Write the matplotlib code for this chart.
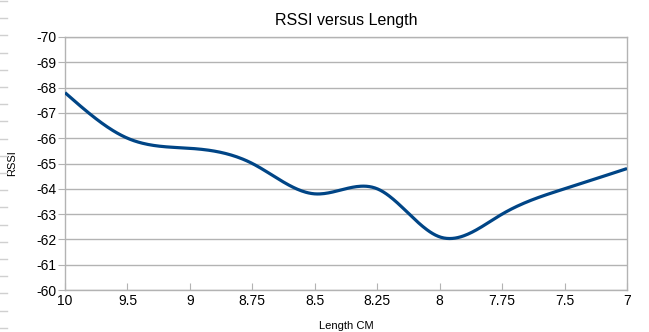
import numpy as np
import matplotlib
matplotlib.use("Agg")
import matplotlib.pyplot as plt
from matplotlib.lines import Line2D

# data
lengths = ["10", "9.5", "9", "8.75", "8.5", "8.25", "8", "7.75", "7.5", "7"]
rssi = [-67.8, -66.0, -65.6, -65.0, -63.8, -64.0, -62.1, -63.0, -64.0, -64.8]
y_ticks = list(range(-60, -71, -1))


def natural_spline(x, y, n=400):
    """Natural cubic spline through (x, y), sampled on n points."""
    x = np.asarray(x, float)
    y = np.asarray(y, float)
    k = len(x)
    h = np.diff(x)
    A = np.zeros((k, k))
    b = np.zeros(k)
    A[0, 0] = A[-1, -1] = 1
    for i in range(1, k - 1):
        A[i, i - 1] = h[i - 1]
        A[i, i] = 2 * (h[i - 1] + h[i])
        A[i, i + 1] = h[i]
        b[i] = 3 * ((y[i + 1] - y[i]) / h[i] - (y[i] - y[i - 1]) / h[i - 1])
    c = np.linalg.solve(A, b)
    xs = np.linspace(x[0], x[-1], n)
    idx = np.clip(np.searchsorted(x, xs) - 1, 0, k - 2)
    dx = xs - x[idx]
    bb = (y[idx + 1] - y[idx]) / h[idx] - h[idx] * (2 * c[idx] + c[idx + 1]) / 3
    dd = (c[idx + 1] - c[idx]) / (3 * h[idx])
    ys = y[idx] + bb * dx + c[idx] * dx ** 2 + dd * dx ** 3
    return xs, ys


plt.rcParams["font.family"] = ["Liberation Sans", "DejaVu Sans"]

fig = plt.figure(figsize=(6.49, 3.32), dpi=100)
ax = fig.add_axes([65 / 649, 42 / 332, 562 / 649, 253 / 332])

pos = np.arange(len(lengths))
xs, ys = natural_spline(pos, rssi)
ax.plot(xs, ys, color="#004586", lw=2.3, solid_capstyle="butt", zorder=3)

ax.set_xlim(0, len(lengths) - 1)
ax.set_ylim(-60, -70)
ax.set_yticks(y_ticks)
ax.set_yticklabels([str(t) for t in y_ticks], fontsize=10)
ax.set_xticks(pos)
ax.set_xticklabels(lengths, fontsize=10)

ax.grid(axis="y", color="#b3b3b3", lw=1)
for s in ax.spines.values():
    s.set_color("#b3b3b3")
    s.set_linewidth(1)
ax.tick_params(axis="y", direction="out", length=5, color="#b3b3b3", pad=1)
ax.tick_params(axis="x", direction="in", length=5, color="#b3b3b3", pad=3)

ax.set_title("RSSI versus Length", fontsize=11.5, pad=9)
ax.set_xlabel("Length CM", fontsize=8, labelpad=9)
ax.set_ylabel("RSSI", fontsize=8, labelpad=14)

# faint row marks along the left edge of the screenshot
for yy in np.arange(1, 332, 17.2):
    fig.add_artist(Line2D([0, 7 / 649], [1 - yy / 332] * 2, color="#d0d0d0", lw=1))

fig.savefig("out.png", dpi=100)
